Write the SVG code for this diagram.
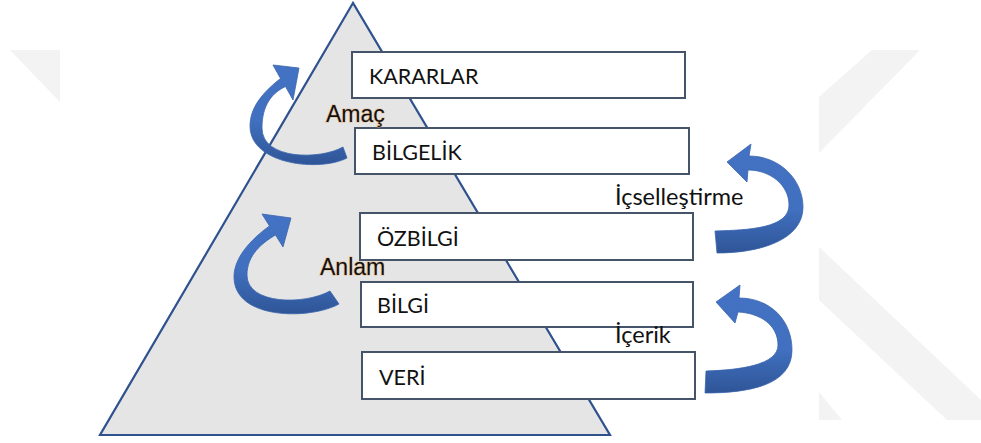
<svg xmlns="http://www.w3.org/2000/svg" width="981" height="443" viewBox="0 0 981 443">
  <defs>
    <style>
      .mark { fill: #f3f3f3; }
      .level { fill: #ffffff; stroke: #46546a; stroke-width: 2; }
      .level-text { font-family: Lato, "Open Sans", sans-serif; font-size: 21.5px; fill: #111111; }
      .step { font-family: "Liberation Sans", Arial, sans-serif; font-size: 23px; fill: #111111;
              stroke: #f0a860; stroke-opacity: 0.5; stroke-width: 1.5; paint-order: stroke; }
      .side { font-family: Lato, "Open Sans", sans-serif; font-size: 23.5px; fill: #111111; }
      .loop { stroke: #3a64ad; stroke-width: 0.8; stroke-linejoin: round; }
    </style>
    <linearGradient id="loopL" x1="0" y1="0" x2="0" y2="1">
      <stop offset="0" stop-color="#4472c4"/>
      <stop offset="0.55" stop-color="#4070bf"/>
      <stop offset="1" stop-color="#2f5597"/>
    </linearGradient>
    <linearGradient id="loopR" x1="0" y1="0" x2="0" y2="1">
      <stop offset="0" stop-color="#4472c4"/>
      <stop offset="0.6" stop-color="#4070bf"/>
      <stop offset="1" stop-color="#2f5597"/>
    </linearGradient>
  </defs>

  <rect x="0" y="0" width="981" height="443" fill="#ffffff"/>

  <!-- faint background mark -->
  <g id="background-mark">
    <polygon class="mark" points="10,50 60,50 60,102"/>
    <polygon class="mark" points="819,97 872,50 920,50 819,153"/>
    <polygon class="mark" points="819,247 981,400 981,420 947,420 819,300"/>
    <polygon class="mark" points="819,392 842,420 819,420"/>
  </g>

  <!-- pyramid -->
  <g id="pyramid">
    <polygon points="353,3 100,435 610,435" fill="#e5e5e5" stroke="#2f528f" stroke-width="2.2" stroke-linejoin="miter"/>
  </g>

  <!-- levels -->
  <g id="kararlar">
    <rect class="level" x="352" y="52" width="333" height="46"/>
    <text class="level-text" x="369" y="84">KARARLAR</text>
  </g>
  <g id="bilgelik">
    <rect class="level" x="355" y="128" width="334" height="46"/>
    <text class="level-text" x="372" y="160">BİLGELİK</text>
  </g>
  <g id="ozbilgi">
    <rect class="level" x="360" y="213" width="333" height="47"/>
    <text class="level-text" x="377" y="246">ÖZBİLGİ</text>
  </g>
  <g id="bilgi">
    <rect class="level" x="361" y="282" width="332" height="45"/>
    <text class="level-text" x="377" y="313">BİLGİ</text>
  </g>
  <g id="veri">
    <rect class="level" x="362" y="352" width="333" height="47"/>
    <text class="level-text" x="379" y="385">VERİ</text>
  </g>

  <!-- step labels -->
  <g id="label-amac"><text class="step" x="326" y="121.5">Amaç</text></g>
  <g id="label-anlam"><text class="step" x="320" y="275">Anlam</text></g>
  <g id="label-icsellestirme"><text class="side" x="615" y="205">İçselleştirme</text></g>
  <g id="label-icerik"><text class="side" x="615" y="343">İçerik</text></g>

  <!-- curved arrows between levels -->
  <g id="connectors">
    <path class="loop" fill="url(#loopL)" d="M343,147 C320,160 262,160 262,128 C262,105 272,93 285.5,86.5 L293,100 L299,68 L273,65 L280.5,78.5 C262,93 250,108 250,126 C250,165 320,172 347,158 Z"/>
    <path class="loop" fill="url(#loopL)" d="M330,291 C305,305 247,305 247,275 C247,255 262,243 275.5,235 L283,247 L291,218 L262,214 L269.5,226 C250,240 234,258 234,277 C234,320 310,320 339,304 Z"/>
    <path class="loop" fill="url(#loopR)" d="M715,231 C750,230 789,228 789,205 C789,185 770,170 748,170 L747,182 L727,162 L751,144 L749,156 C780,156 803,180 803,207 C803,240 760,253 717,253 Z"/>
    <path class="loop" fill="url(#loopR)" d="M706,371 C740,370 778,365 778,345 C778,325 760,313 738,312 L735,323 L716,302 L740,285 L739,298 C770,298 792,320 792,350 C792,385 750,393 705,393 Z"/>
  </g>
</svg>
